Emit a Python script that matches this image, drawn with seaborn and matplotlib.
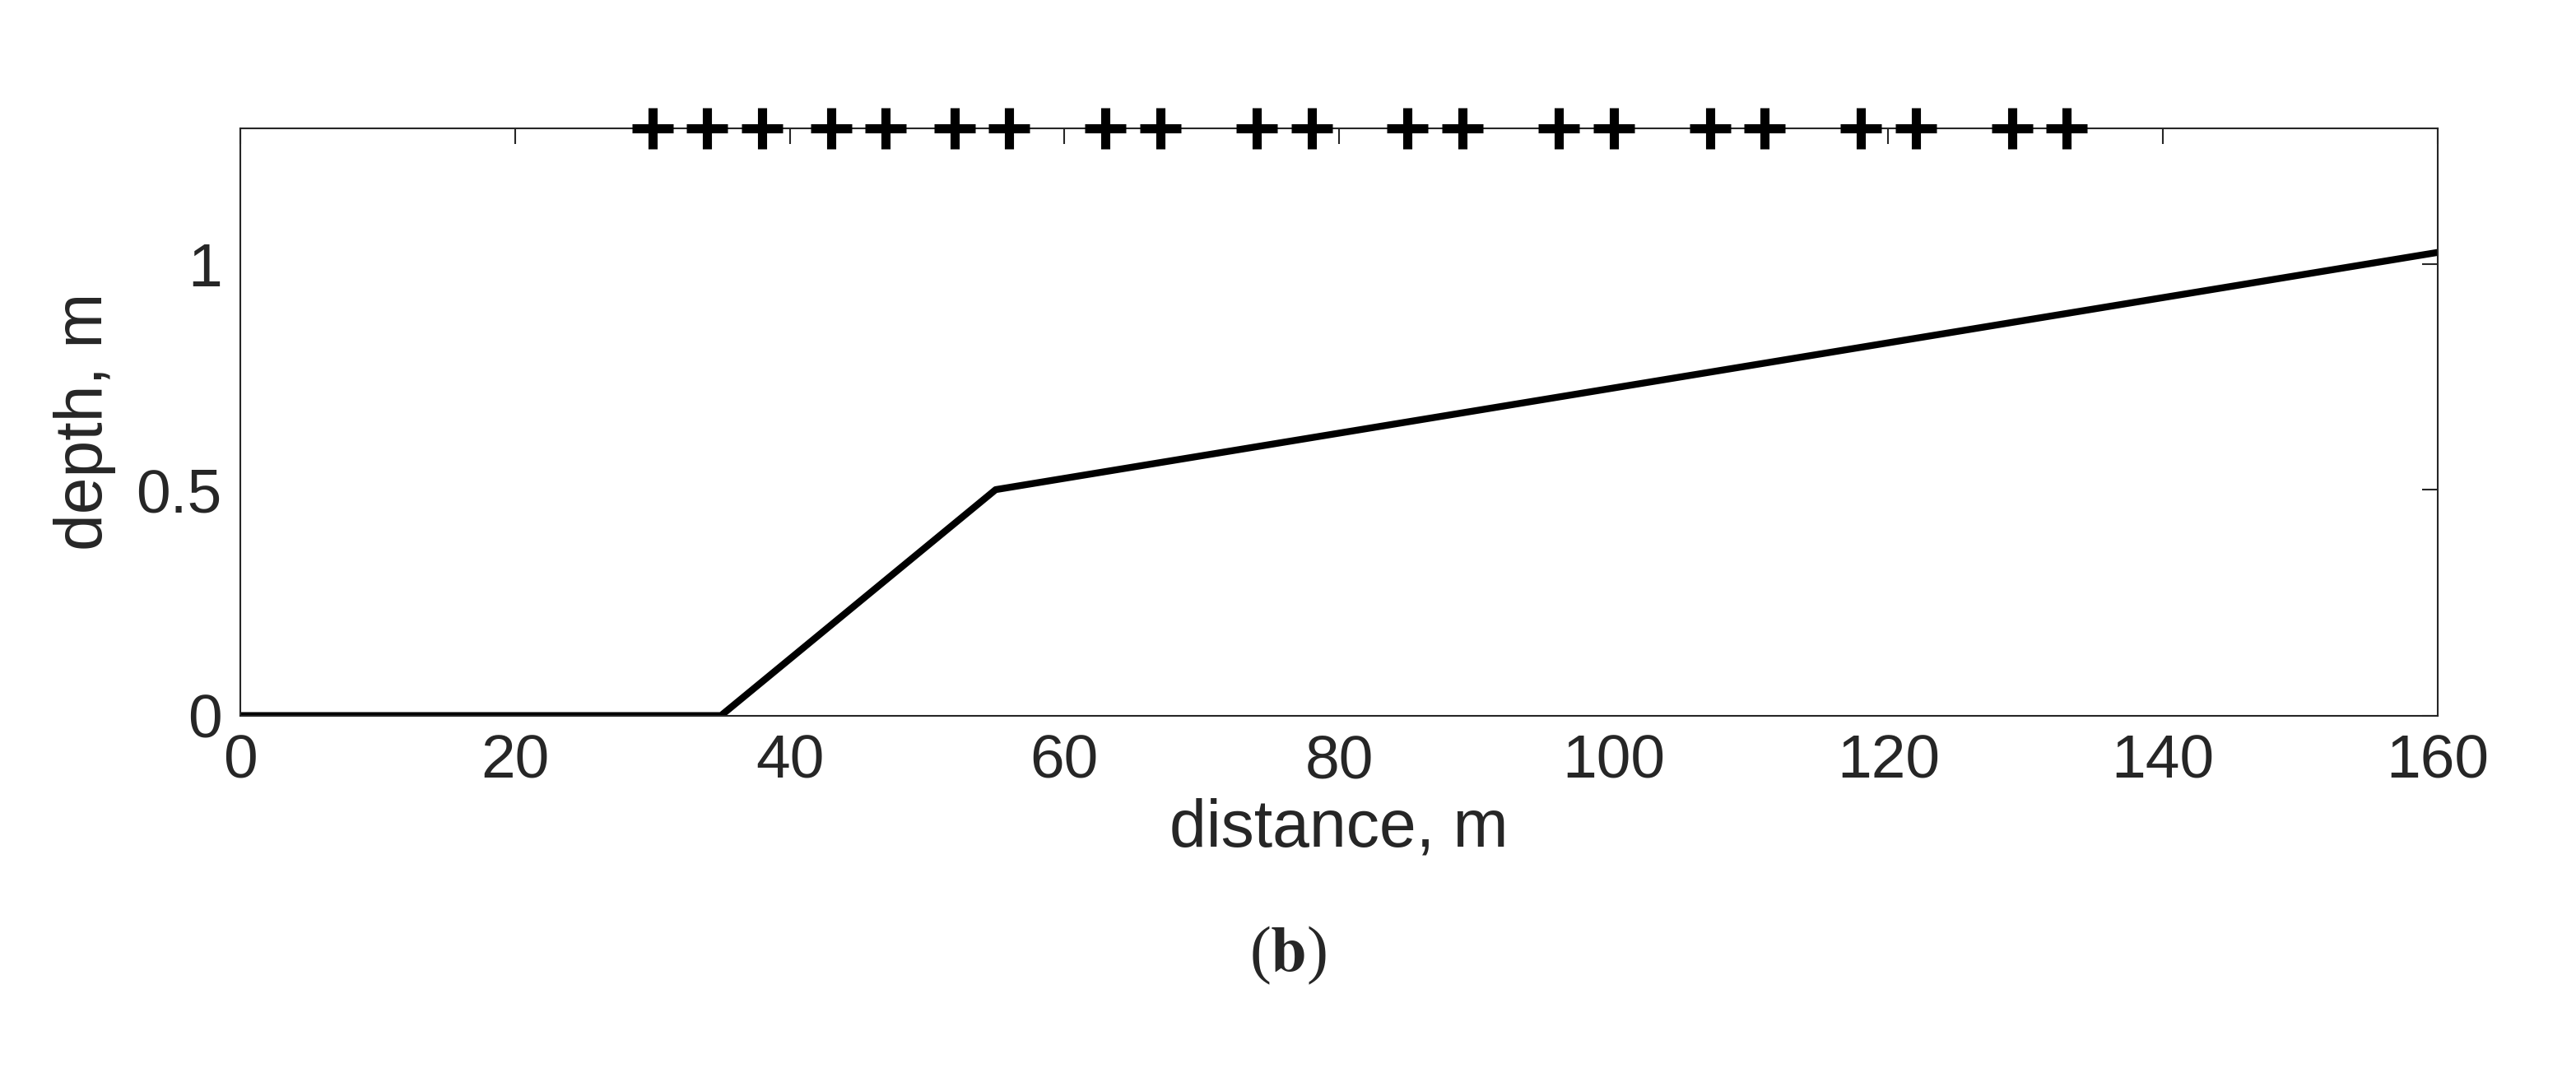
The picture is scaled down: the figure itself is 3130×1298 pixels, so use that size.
import matplotlib
matplotlib.use('Agg')
import matplotlib.pyplot as plt
import seaborn as sns
import pandas as pd

sns.set_theme(style='white')
plt.rcParams['font.family'] = ['Arial', 'Liberation Sans', 'DejaVu Sans']
plt.rcParams['mathtext.fontset'] = 'stix'

# bottom profile
profile_x = [0, 35, 55, 160]
profile_depth = [0, 0, 0.5, 1.025]

# sensor positions along the top
sensor_x = [30, 34, 38, 43, 47, 52, 56, 63, 67, 74, 78, 85, 89,
            96, 100, 107, 111, 118, 122, 129, 133]
sensor_y = [1.3] * len(sensor_x)

df = pd.DataFrame({'distance': profile_x, 'depth': profile_depth})

fig = plt.figure(figsize=(31.3, 12.98), dpi=100)
ax = fig.add_axes([0.0933, 0.330, 0.853, 0.550])

sns.lineplot(data=df, x='distance', y='depth', color='black', linewidth=6, ax=ax)
ax.scatter(sensor_x, sensor_y, marker='+', s=1300, linewidths=8,
           color='black', clip_on=False, zorder=5)

ax.set_xlim(0, 160)
ax.set_ylim(0, 1.3)
ax.set_xticks([0, 20, 40, 60, 80, 100, 120, 140, 160])
ax.set_yticks([0, 0.5, 1])
ax.set_yticklabels(['0', '0.5', '1'])
ax.tick_params(direction='in', length=14, width=1.5, labelsize=54,
               top=True, right=True, colors='#262626', pad=16)
for s in ax.spines.values():
    s.set_linewidth(1.5)
    s.set_color('#262626')
ax.set_xlabel('distance, m', fontsize=58, color='#262626', labelpad=6)
ax.set_ylabel('depth, m', fontsize=58, color='#262626', labelpad=18)

fig.text(0.5, 0.105, r'($\mathbf{b}$)', fontsize=56, ha='center', va='center',
         family=['Liberation Serif', 'DejaVu Serif'])

fig.savefig('out.png', dpi=100)
